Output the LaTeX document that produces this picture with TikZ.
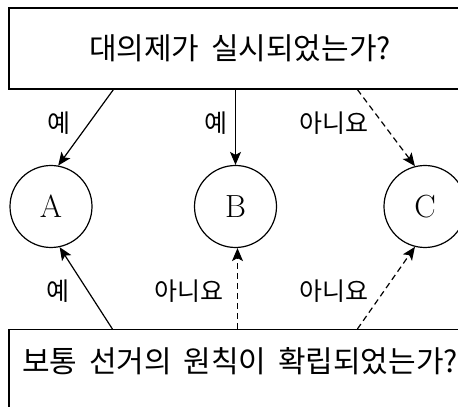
\documentclass[tikz,border=0pt]{standalone}
\usepackage{fontspec}
\newfontfamily\kofont[WordSpace=1.75]{Noto Sans CJK KR}
\usetikzlibrary{arrows.meta}

\tikzset{
	qbox/.style={draw, line width=1.2pt, minimum width=462pt, inner sep=0pt,
		font=\kofont\fontsize{30}{36}\selectfont},
	state/.style={draw, circle, line width=1.2pt, minimum size=82pt, inner sep=0pt,
		font=\fontsize{32}{36}\selectfont},
	arr/.style={line width=1.2pt, -{Stealth[length=13pt, width=11pt, inset=3pt]}},
	noarr/.style={arr, dash pattern=on 6pt off 4pt},
	ans/.style={font=\kofont\fontsize{25}{30}\selectfont}
}

\begin{document}
\begin{tikzpicture}[x=1pt, y=1pt]
				\clip (0,0) rectangle (458,407);
				% questions
				\node[qbox, minimum height=81pt] (vote) at (240,358.5) {대의제가 실시되었는가?};
				\node[qbox, anchor=north, text height=43pt, text depth=70pt] (elect) at (240,78) {보통 선거의 원칙이 확립되었는가?};
				% outcomes
				\node[state] (A) at (51,200.5) {A};
				\node[state] (B) at (235.5,200.5) {B};
				\node[state] (C) at (425,200.5) {C};
				% from the upper question
				\draw[arr] ([xshift=105pt]vote.south west) -- (A.80);
				\draw[arr] (vote.south -| B) -- (B.north);
				\draw[noarr] ([xshift=349pt]vote.south west) -- (C.104);
				\node[ans] (ya1) at (59,284) {예};
				\node[ans] (yb1) at (216,284) {예};
				\node[ans] (nc1) at (334,284) {아니요};
				% from the lower question
				\draw[arr] ([xshift=104pt]elect.north west) -- (A.282);
				\draw[noarr] ([xshift=2pt]elect.north -| B) -- ([xshift=2pt]B.south);
				\draw[noarr] ([xshift=349pt]elect.north west) -- (C.256);
				\node[ans] (ya2) at (58,116) {예};
				\node[ans] (nb2) at (188.5,116) {아니요};
				\node[ans] (nc2) at (334,116) {아니요};
			\end{tikzpicture}
\end{document}
